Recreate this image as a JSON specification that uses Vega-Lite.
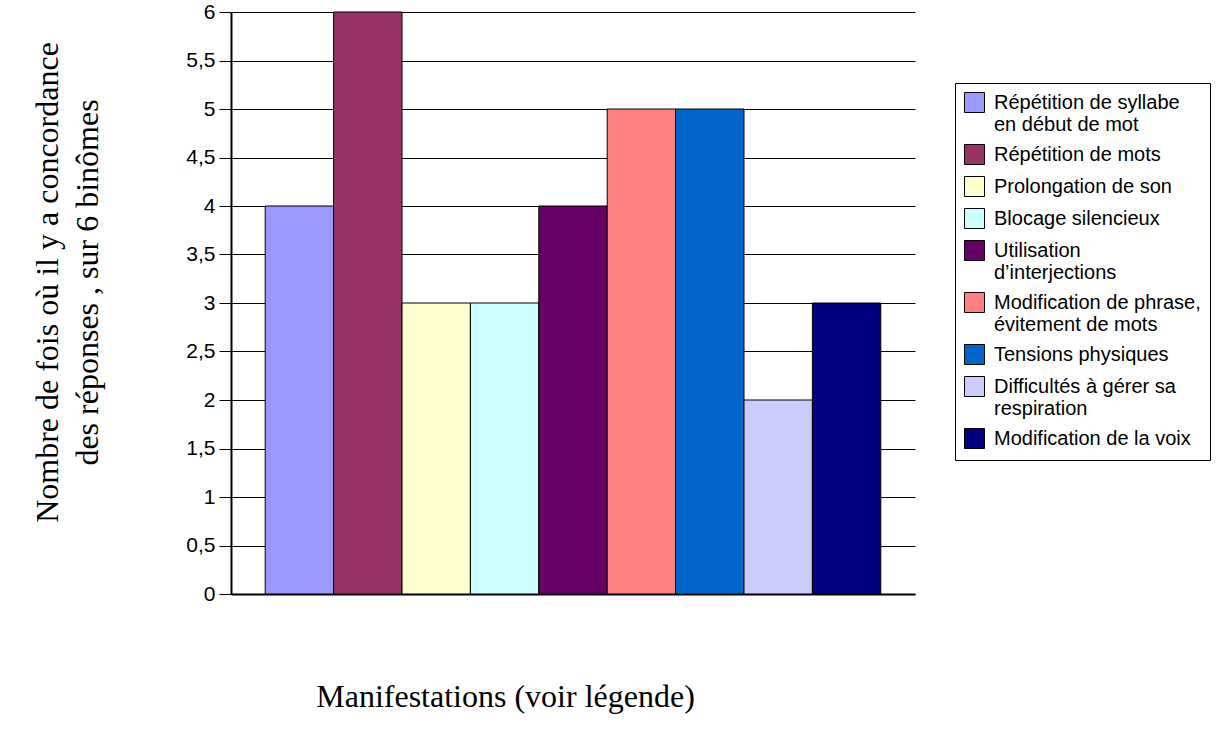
{
  "$schema": "https://vega.github.io/schema/vega-lite/v6.json",
  "width": 684,
  "height": 582,
  "autosize": "none",
  "padding": {"left": 231, "top": 12, "right": 306, "bottom": 144},
  "background": "white",
  "config": {"view": {"stroke": null}, "font": "Liberation Sans"},
  "data": {"values": [
    {"manifestation": "Répétition de syllabe en début de mot", "n": 4},
    {"manifestation": "Répétition de mots", "n": 6},
    {"manifestation": "Prolongation de son", "n": 3},
    {"manifestation": "Blocage silencieux", "n": 3},
    {"manifestation": "Utilisation d’interjections", "n": 4},
    {"manifestation": "Modification de phrase, évitement de mots", "n": 5},
    {"manifestation": "Tensions physiques", "n": 5},
    {"manifestation": "Difficultés à gérer sa respiration", "n": 2},
    {"manifestation": "Modification de la voix", "n": 3}
  ]},
  "mark": {"type": "bar", "stroke": "black", "strokeWidth": 1},
  "encoding": {
    "x": {
      "field": "manifestation", "type": "nominal", "sort": null,
      "scale": {"paddingInner": 0, "paddingOuter": 0.5},
      "axis": {
        "labels": false, "ticks": false, "grid": false,
        "domainColor": "black", "domainWidth": 2,
        "title": "Manifestations (voir légende)",
        "titleFont": "Liberation Serif", "titleFontSize": 32, "titleFontWeight": "normal", "titleColor": "black",
        "titleX": 274, "titleY": 112, "titleBaseline": "alphabetic", "titleAlign": "center"
      }
    },
    "y": {
      "field": "n", "type": "quantitative",
      "scale": {"domain": [0, 6], "nice": false},
      "axis": {
        "values": [0, 0.5, 1, 1.5, 2, 2.5, 3, 3.5, 4, 4.5, 5, 5.5, 6],
        "labelExpr": "replace(format(datum.value, '~g'), '.', ',')",
        "labelFontSize": 21, "labelColor": "black", "labelPadding": 4,
        "tickSize": 12, "tickColor": "black",
        "domainColor": "black", "domainWidth": 2,
        "gridColor": "black", "gridWidth": 1, "gridOpacity": 1,
        "title": ["Nombre de fois où il y a concordance", "des réponses , sur 6 binômes"],
        "titleFont": "Liberation Serif", "titleFontSize": 32, "titleFontWeight": "normal", "titleColor": "black",
        "titleLineHeight": 40,
        "titleX": -174, "titleY": 270, "titleAlign": "center", "titleBaseline": "alphabetic"
      }
    },
    "color": {
      "field": "manifestation", "type": "nominal", "sort": null,
      "scale": {
        "domain": ["Répétition de syllabe en début de mot", "Répétition de mots", "Prolongation de son", "Blocage silencieux", "Utilisation d’interjections", "Modification de phrase, évitement de mots", "Tensions physiques", "Difficultés à gérer sa respiration", "Modification de la voix"],
        "range": ["#9999FF", "#993366", "#FFFFCC", "#CCFFFF", "#660066", "#FF8080", "#0066CC", "#CCCCFF", "#000080"]
      },
      "legend": {
        "orient": "none", "legendX": 724, "legendY": 71,
        "title": null,
        "strokeColor": "black", "padding": 9,
        "symbolType": "square", "symbolSize": 400, "symbolStrokeColor": "black", "symbolStrokeWidth": 1, "symbolOpacity": 1,
        "labelFontSize": 20, "labelColor": "black", "labelLimit": 300, "labelOffset": 9,
        "rowPadding": 7,
        "labelExpr": "datum.label == 'Répétition de syllabe en début de mot' ? ['Répétition de syllabe', 'en début de mot'] : datum.label == 'Utilisation d’interjections' ? ['Utilisation', 'd’interjections'] : datum.label == 'Modification de phrase, évitement de mots' ? ['Modification de phrase,', 'évitement de mots'] : datum.label == 'Difficultés à gérer sa respiration' ? ['Difficultés à gérer sa', 'respiration'] : datum.label"
      }
    }
  }
}
